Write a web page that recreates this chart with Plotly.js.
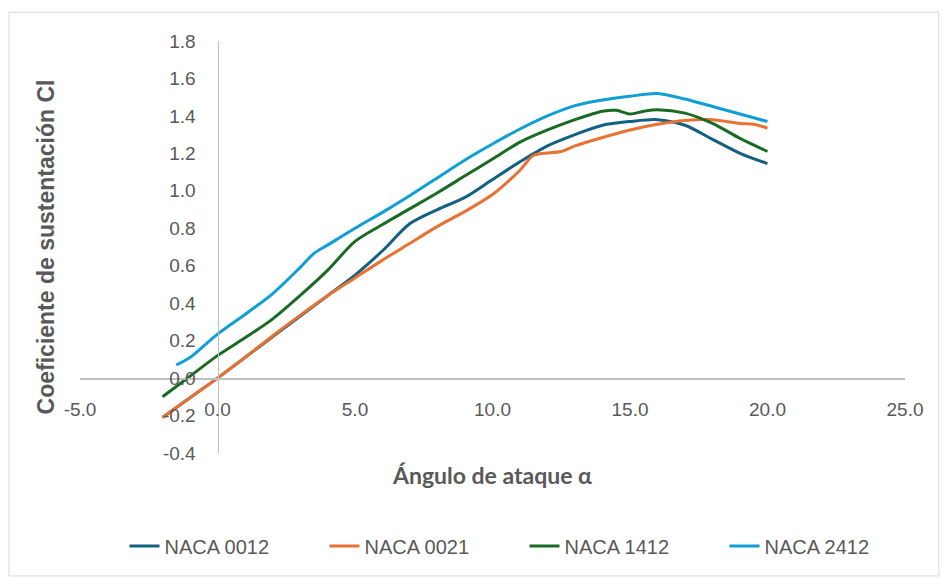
<!DOCTYPE html>
<html>
<head>
<meta charset="utf-8">
<script src="https://cdn.plot.ly/plotly-3.0.1.min.js"></script>
<style>html,body{margin:0;padding:0;background:#fff;}#chart{width:942px;height:578px;}</style>
</head>
<body>
<div id="chart"></div>
<script>
// Series names
var seriesNames = ["NACA 0012", "NACA 0021", "NACA 1412", "NACA 2412"];

// NACA 0012
var alpha0012 = [-2, -1, 0, 1, 2, 3, 4, 5, 6, 7, 8, 9, 10, 11, 12, 13, 14, 15, 16, 17, 18, 19, 20];
var cl0012    = [-0.21, -0.105, 0.0, 0.11, 0.22, 0.33, 0.44, 0.55, 0.68, 0.825, 0.90, 0.965, 1.06, 1.155, 1.24, 1.30, 1.35, 1.37, 1.38, 1.35, 1.275, 1.20, 1.145];

// NACA 0021
var alpha0021 = [-2, -1, 0, 1, 2, 3, 4, 5, 6, 7, 8, 9, 10, 11, 11.5, 12.5, 13, 14, 15, 16, 17, 18, 19, 19.5, 20];
var cl0021    = [-0.21, -0.105, 0.0, 0.11, 0.225, 0.335, 0.44, 0.535, 0.63, 0.72, 0.81, 0.89, 0.98, 1.11, 1.19, 1.21, 1.24, 1.285, 1.325, 1.355, 1.375, 1.38, 1.36, 1.355, 1.335];

// NACA 1412
var alpha1412 = [-2, -1, 0, 1, 2, 3, 4, 5, 6, 7, 8, 9, 10, 11, 12, 13, 14, 14.5, 15, 15.5, 16, 17, 18, 19, 20];
var cl1412    = [-0.10, 0.01, 0.12, 0.215, 0.315, 0.44, 0.575, 0.73, 0.82, 0.905, 0.99, 1.08, 1.17, 1.26, 1.325, 1.38, 1.425, 1.43, 1.41, 1.425, 1.433, 1.415, 1.36, 1.28, 1.21];

// NACA 2412
var alpha2412 = [-1.5, -1, 0, 1, 2, 3, 3.5, 4, 5, 6, 7, 8, 9, 10, 11, 12, 13, 14, 15, 16, 17, 18, 19, 20];
var cl2412    = [0.07, 0.11, 0.235, 0.34, 0.45, 0.59, 0.665, 0.71, 0.80, 0.885, 0.975, 1.07, 1.165, 1.25, 1.33, 1.40, 1.455, 1.485, 1.505, 1.52, 1.49, 1.45, 1.41, 1.37];

var seriesColors = ["#156082", "#E97132", "#196B24", "#0F9ED5"];

// Axis tick values
var xTicks = [-5, 0, 5, 10, 15, 20, 25];
var yTicks = [-0.4, -0.2, 0.0, 0.2, 0.4, 0.6, 0.8, 1.0, 1.2, 1.4, 1.6, 1.8];
var xTickText = xTicks.map(function (v) { return v.toFixed(1); });
var yTickText = yTicks.map(function (v) { return v.toFixed(1); });

var xs = [alpha0012, alpha0021, alpha1412, alpha2412];
var ys = [cl0012, cl0021, cl1412, cl2412];

var traces = seriesNames.map(function (n, i) {
  return {
    type: "scatter", mode: "lines", name: n,
    x: xs[i], y: ys[i],
    line: { color: seriesColors[i], width: 3, shape: "spline", smoothing: 0.8 },
    hoverinfo: "x+y+name"
  };
});

var tickFont = { family: "Liberation Sans, Arial, sans-serif", size: 19, color: "#595959" };

var layout = {
  width: 942, height: 578,
  margin: { l: 80, r: 37, t: 41, b: 125 },
  paper_bgcolor: "#ffffff", plot_bgcolor: "#ffffff",
  showlegend: true,
  legend: {
    orientation: "h", x: 0.5388, xanchor: "center", y: -0.226, yanchor: "middle",
    font: { family: "Liberation Sans, Arial, sans-serif", size: 20, color: "#595959" },
    entrywidth: 155, entrywidthmode: "pixels", itemwidth: 30, traceorder: "normal"
  },
  xaxis: {
    range: [-5, 25], tickvals: xTicks, ticktext: xTickText,
    showgrid: false, zeroline: false, showline: true, linecolor: "#BFBFBF", linewidth: 1.5,
    ticks: "", tickfont: tickFont, ticklabelstandoff: 14,
    anchor: "free", position: 0.4 / 2.2,
    automargin: false,
    title: { text: "Ángulo de ataque α", standoff: 48,
      font: { family: "Lato, sans-serif", size: 23, color: "#595959", weight: "bold" } }
  },
  yaxis: {
    range: [-0.4, 1.8], tickvals: yTicks, ticktext: yTickText,
    showgrid: false, zeroline: false, showline: true, linecolor: "#BFBFBF", linewidth: 1.5,
    ticks: "", tickfont: tickFont, ticklabelstandoff: 18,
    anchor: "free", position: 5 / 30,
    automargin: false,
    title: { text: "Coeficiente de sustentación Cl", standoff: 100,
      font: { family: "Liberation Sans, Arial, sans-serif", size: 23, color: "#595959", weight: "bold" } }
  },
  shapes: [{
    type: "rect", xref: "paper", yref: "paper",
    x0: -0.086, x1: 1.041, y0: -0.2985, y1: 1.070,
    line: { color: "#D9D9D9", width: 1 }, fillcolor: "rgba(0,0,0,0)", layer: "below"
  }]
};

Plotly.newPlot("chart", traces, layout, { displayModeBar: false, staticPlot: true });
</script>
</body>
</html>
